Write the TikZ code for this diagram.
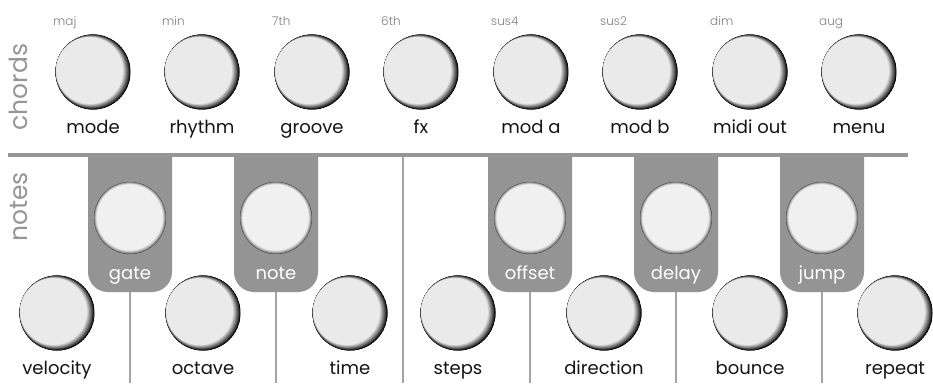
\documentclass[tikz,border=0pt]{standalone}
\usepackage{fontspec}
\setmainfont{Poppins}
\newfontfamily\lightfont{Poppins Light}
\definecolor{knoblight}{RGB}{234,234,234}
\definecolor{panelgray}{RGB}{150,150,150}
\definecolor{tabgray}{RGB}{148,148,148}
\definecolor{rulegray}{RGB}{165,165,165}
\definecolor{smallgray}{RGB}{128,128,128}
\definecolor{labelblack}{RGB}{20,20,20}
\tikzset{
  % raised knob: light face, dark crescent towards the lower right
  knob/.style={circle, minimum size=75pt, inner sep=0pt, fill=black,
    path picture={
      \foreach \i in {0,...,18}{
        \pgfmathsetmacro\kt{\i/18}
        \pgfmathsetmacro\kp{100*(\kt)^0.9}
        \pgfmathsetmacro\kr{37.5-4.2*\kt}
        \fill[knoblight!\kp!black]
          ([shift={(-3.4*\kt pt, 1.4*\kt pt)}]path picture bounding box.center)
          circle[radius=\kr pt];
      }}},
  % flush knob inside a tab: even soft rim
  tabknob/.style={circle, minimum size=72pt, inner sep=0pt, fill=black!70,
    path picture={
      \foreach \i in {0,...,12}{
        \pgfmathsetmacro\kt{\i/12}
        \pgfmathsetmacro\kp{100*(\kt)^0.6}
        \pgfmathsetmacro\kr{36-3.2*\kt}
        \fill[knoblight!\kp!black!70]
          ([shift={(-0.3*\kt pt, 0.6*\kt pt)}]path picture bounding box.center)
          circle[radius=\kr pt];
      }}},
  lbl/.style={anchor=base, inner sep=0pt, font=\fontsize{18}{18}\selectfont, text=labelblack},
  small/.style={anchor=base west, inner sep=0pt, font=\lightfont\fontsize{12}{12}\selectfont, text=smallgray},
  tablbl/.style={anchor=base, inner sep=0pt, font=\fontsize{18}{18}\selectfont, text=white},
  section/.style={rotate=90, inner sep=0pt, font=\fontsize{25}{25}\selectfont, text=panelgray},
  rule/.style={draw=rulegray, line width=1.6pt},
  sep/.style={draw=panelgray, line width=4pt},
}
\begin{document}
\begin{tikzpicture}[x=1pt, y=-1pt]
\useasboundingbox (0,0) rectangle (933,383);
\fill[white] (0,0) rectangle (933,383);

% gray tabs behind the upper row of note knobs
\foreach \cx/\nm in {130/gate, 276/note, 530/offset, 676/delay, 822/jump}{
  \fill[tabgray] (\cx-42,155) -- (\cx-42,272) arc[start angle=180, end angle=270, radius=20pt]
    -- (\cx+22,292) arc[start angle=270, end angle=360, radius=20pt] -- (\cx+42,155) -- cycle;
  \coordinate (\nm tab) at (\cx,292);
  \coordinate (\nm foot) at (\cx,383);
  \draw[rule] (\nm tab) -- (\nm foot);
}

% divider between the two halves of the notes row
\coordinate (midtop) at (403,155);
\coordinate (midfoot) at (403,383);
\draw[rule] (midtop) -- (midfoot);

% horizontal separator between chords and notes
\coordinate (sepL) at (8,155);
\coordinate (sepR) at (908,155);
\draw[sep] (sepL) -- (sepR);

% section titles
\node[section] (chords) at (18,87) {chords};
\node[section] (notes) at (19,207) {notes};

% chords row
\foreach \cx/\nm/\lab/\ch in {93/mode/mode/maj, 202/rhythm/rhythm/min, 312/groove/groove/7th,
    421/fx/fx/6th, 531/moda/mod a/sus4, 640/modb/mod b/sus2, 750/midi/midi out/dim, 859/menu/menu/aug}{
  \node[knob] (\nm) at (\cx,72) {};
  \node[lbl] (\nm lbl) at (\cx,133) {\lab};
  \node[small] (\nm ch) at (\cx-40,25) {\ch};
}

% notes row, knobs inside tabs
\foreach \cx/\nm in {130/gate, 276/note, 530/offset, 676/delay, 822/jump}{
  \node[tabknob] (\nm knob) at (\cx,218) {};
  \node[tablbl] (\nm lbl) at (\cx,279) {\nm};
}

% notes row, lower knobs
\foreach \cx/\nm in {57/velocity, 203/octave, 350/time, 458/steps, 604/direction, 750/bounce, 895/repeat}{
  \node[knob] (\nm) at (\cx,313) {};
  \node[lbl] (\nm lbl) at (\cx,374) {\nm};
}
\end{tikzpicture}
\end{document}
